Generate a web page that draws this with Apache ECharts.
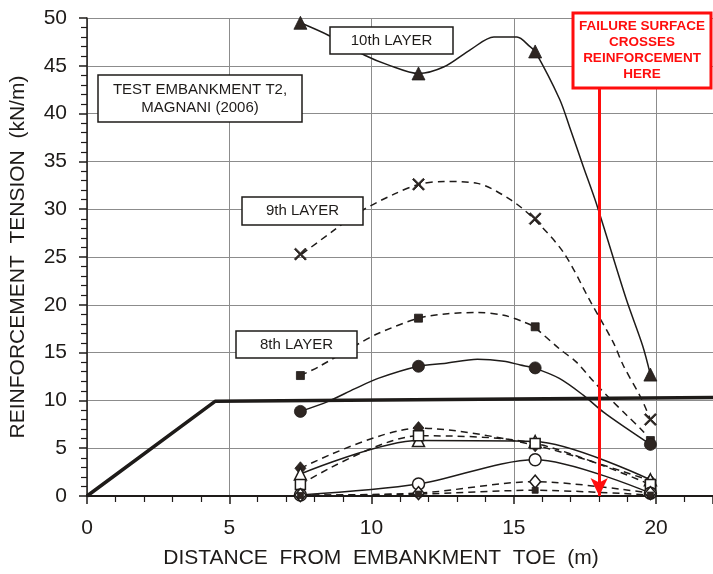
<!DOCTYPE html>
<html>
<head>
<meta charset="utf-8">
<script src="https://cdn.jsdelivr.net/npm/echarts@6/dist/echarts.min.js"></script>
<style>
  html, body { margin: 0; padding: 0; background: #fff; }
  #chart { width: 713px; height: 574px; }
</style>
</head>
<body>
<div id="chart"></div>
<script>
// measurement stations (m from toe)
const stations = [7.5, 11.65, 15.75, 19.8]

// measured tensions at the stations (kN/m)
const layer10 = [49.5, 44.2, 46.5, 12.7]
const layer9 = [25.3, 32.6, 29.0, 8.0]
const layer8 = [12.6, 18.6, 17.7, 5.8]
const layer7 = [8.85, 13.57, 13.4, 5.4]
const diamondFilled = [2.9, 7.1, 5.3, 1.6]
const triangleOpen = [2.3, 5.8, 5.7, 1.7]
const squareOpen = [1.2, 6.3, 5.5, 1.2]
const circleOpen = [0.1, 1.25, 3.8, 0.3]
const diamondOpen = [0.1, 0.3, 1.5, 0.3]
const squareSmall = [0.05, 0.2, 0.6, 0.1]

// hand-drawn curves [x, tension]
const curve10 = [[7.5, 49.5], [8.48, 48.2], [9.76, 46.1], [10.58, 45.1], [11.65, 44.2], [12.55, 44.9], [13.48, 46.7], [14.3, 48.0], [15.11, 48.0], [15.57, 47.0], [15.75, 46.5], [16.61, 41.5], [16.96, 38.6], [17.45, 34.4], [17.9, 30.6], [18.95, 20.6], [19.53, 15.7], [19.8, 12.7]]
const curve9 = [[7.55, 25.3], [8.59, 27.6], [9.63, 29.8], [10.81, 31.6], [11.68, 32.6], [12.55, 32.9], [13.72, 32.7], [14.88, 31.0], [15.7, 29.0], [16.74, 25.5], [17.7, 20.3], [18.49, 16.1], [18.84, 13.7], [19.48, 10.2], [19.8, 8.0]]
const curve8 = [[7.5, 12.6], [8.13, 13.5], [9.53, 15.9], [10.23, 17.0], [11.65, 18.6], [12.67, 19.06], [13.72, 19.2], [14.65, 18.9], [15.35, 18.2], [15.7, 17.7], [16.6, 15.4], [17.2, 14.0], [17.8, 12.0], [18.37, 10.2], [18.95, 8.5], [19.53, 6.8], [19.8, 5.8]]
const curve7 = [[7.5, 8.85], [8.48, 9.9], [9.4, 11.2], [10.23, 12.3], [11.65, 13.57], [12.55, 13.85], [13.72, 14.3], [14.65, 14.1], [15.23, 13.7], [15.7, 13.4], [16.6, 12.3], [17.44, 10.55], [18.14, 8.8], [18.95, 7.1], [19.8, 5.4]]

// embankment profile
const embankment = [[0, 0], [4.5, 9.9], [22, 10.3]]

// failure surface location
const failureX = 18
const failureTop = 42.7

const ink = '#1e1b19'
const font = '"Liberation Sans", Arial, sans-serif'
const crossPath = 'path://M1,0L5,4L9,0L10,1L6,5L10,9L9,10L5,6L1,10L0,9L4,5L0,1Z'

const pair = (vals) => vals.map((v, i) => [stations[i], v])

function curve (data, dashed) {
  return {
    type: 'line',
    data: data,
    smooth: 0.3,
    showSymbol: false,
    silent: true,
    z: 3,
    lineStyle: { color: ink, width: 1.5, type: dashed ? [7, 5] : 'solid' }
  }
}

function marks (vals, symbol, size, open) {
  return {
    type: 'scatter',
    data: pair(vals),
    symbol: symbol,
    symbolSize: size,
    silent: true,
    z: 5,
    itemStyle: open
      ? { color: '#fff', borderColor: ink, borderWidth: 1.5, opacity: 1 }
      : { color: '#2e2622', borderColor: ink, borderWidth: 0.8, opacity: 1 }
  }
}

function box (x, y, w, h, text, opts) {
  opts = opts || {}
  return {
    type: 'group',
    z: 100,
    children: [
      {
        type: 'rect',
        z: 100,
        shape: { x: x, y: y, width: w, height: h },
        style: { fill: '#fff', stroke: opts.color || ink, lineWidth: opts.lw || 1.5 }
      },
      {
        type: 'text',
        z: 101,
        style: {
          text: text,
          x: x + w / 2,
          y: y + h / 2,
          align: 'center',
          verticalAlign: 'middle',
          font: opts.font || ('15px ' + font),
          lineHeight: opts.lh || 18,
          fill: opts.color || ink
        }
      }
    ]
  }
}

const chart = echarts.init(document.getElementById('chart'))

const option = {
  animation: false,
  backgroundColor: '#fff',
  grid: { left: 87, right: -4, top: 18, bottom: 76 },
  xAxis: {
    type: 'value',
    min: 0,
    max: 22,
    interval: 5,
    name: 'DISTANCE  FROM  EMBANKMENT  TOE  (m)',
    nameLocation: 'middle',
    nameGap: 52,
    nameTextStyle: { fontSize: 21, color: ink, fontFamily: font, padding: [0, 38, 0, 0] },
    axisLine: { lineStyle: { color: ink, width: 2 } },
    axisTick: { length: 8, lineStyle: { color: ink, width: 1.5 } },
    minorTick: { show: true, splitNumber: 5, length: 6, lineStyle: { color: ink, width: 1.2 } },
    axisLabel: { fontSize: 21, color: ink, fontFamily: font, margin: 22, showMaxLabel: false },
    splitLine: { lineStyle: { color: '#8c8c8c', width: 1 } }
  },
  yAxis: {
    type: 'value',
    min: 0,
    max: 50,
    interval: 5,
    name: 'REINFORCEMENT  TENSION  (kN/m)',
    nameLocation: 'middle',
    nameGap: 58,
    nameTextStyle: { fontSize: 21, color: ink, fontFamily: font },
    axisLine: { show: true, lineStyle: { color: ink, width: 1.5 } },
    axisTick: { show: true, length: 8, lineStyle: { color: ink, width: 1.5 } },
    minorTick: { show: true, splitNumber: 5, length: 6, lineStyle: { color: ink, width: 1.2 } },
    axisLabel: { fontSize: 21, color: ink, fontFamily: font, margin: 20 },
    splitLine: { lineStyle: { color: '#8c8c8c', width: 1 } }
  },
  series: [
    {
      type: 'line',
      data: embankment,
      showSymbol: false,
      silent: true,
      z: 2,
      lineStyle: { color: ink, width: 3.5 }
    },
    curve(curve10, false),
    curve(curve9, true),
    curve(curve8, true),
    curve(curve7, false),
    curve(pair(diamondFilled), true),
    curve(pair(triangleOpen), false),
    curve(pair(squareOpen), true),
    curve(pair(circleOpen), false),
    curve(pair(diamondOpen), true),
    curve(pair(squareSmall), true),
    marks(layer10, 'triangle', 13, false),
    marks(layer9, crossPath, 12, false),
    marks(layer8, 'rect', 8, false),
    marks(layer7, 'circle', 12, false),
    marks(diamondFilled, 'diamond', [11, 13], false),
    marks(triangleOpen, 'triangle', 12, true),
    marks(squareOpen, 'rect', 10, true),
    marks(circleOpen, 'circle', 12, true),
    marks(diamondOpen, 'diamond', [11, 13], true),
    marks(squareSmall, 'rect', 6, false),
    {
      type: 'line',
      data: [],
      silent: true,
      z: 10,
      markLine: {
        silent: true,
        animation: false,
        symbol: ['none', 'arrow'],
        symbolSize: [13, 18],
        label: { show: false },
        lineStyle: { color: '#ff0d0d', width: 3, type: 'solid' },
        data: [[{ coord: [failureX, failureTop] }, { coord: [failureX, 0] }]]
      }
    }
  ],
  graphic: [
    box(330, 27, 123, 27, '10th LAYER'),
    box(242, 197, 121, 28, '9th LAYER'),
    box(236, 331, 121, 27, '8th LAYER'),
    box(98, 75, 204, 47, 'TEST EMBANKMENT T2,\nMAGNANI (2006)'),
    box(573, 13, 138, 75, 'FAILURE SURFACE\nCROSSES\nREINFORCEMENT\nHERE',
      { color: '#ff0d0d', lw: 3, lh: 16, font: 'bold 13.5px ' + font })
  ]
}

chart.setOption(option)
</script>
</body>
</html>
